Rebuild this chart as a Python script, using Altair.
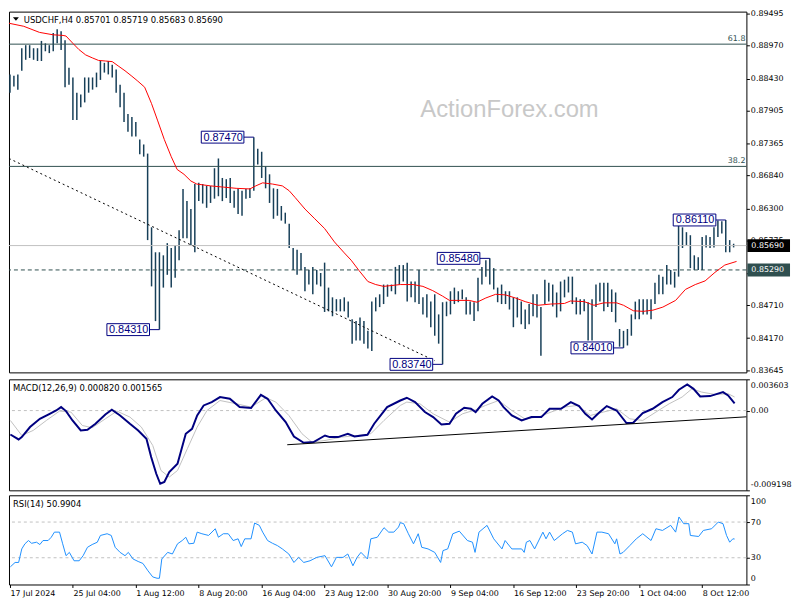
import json
import altair as alt
import pandas as pd

FONT = "DejaVu Sans"
LABEL_FONT = "Liberation Sans"
BAR_COLOR = "#173f58"
NAVY = "#000080"
FIB_COLOR = "#2f4f4f"

W = 744
H_MAIN = 364
H_MACD = 112
H_RSI = 90

# ---------------- data ----------------
# 8-hour price bars, values in 1e-4 (0.8850 -> 8850)
highs = [
    8850, 8848, 8850, 8893, 8898, 8898, 8893, 8893, 8905, 8901,
    8898, 8918, 8924, 8921, 8906, 8861, 8845, 8820, 8817, 8845,
    8845, 8845, 8853, 8872, 8869, 8872, 8866, 8858, 8833, 8820,
    8785, 8780, 8772, 8743, 8735, 8720, 8599, 8558, 8558, 8553,
    8573, 8565, 8570, 8594, 8662, 8642, 8629, 8670, 8672, 8670,
    8667, 8667, 8696, 8712, 8680, 8678, 8680, 8659, 8662, 8659,
    8662, 8663, 8747, 8728, 8723, 8699, 8686, 8663, 8662, 8634,
    8623, 8605, 8565, 8562, 8557, 8534, 8529, 8534, 8529, 8524,
    8541, 8500, 8484, 8481, 8481, 8484, 8477, 8448, 8445, 8451,
    8445, 8429, 8477, 8484, 8489, 8505, 8505, 8505, 8534, 8537,
    8537, 8541, 8510, 8510, 8529, 8484, 8489, 8477, 8489, 8456,
    8476, 8477, 8494, 8500, 8494, 8497, 8484, 8477, 8476, 8516,
    8534, 8545, 8548, 8532, 8500, 8505, 8494, 8494, 8484, 8484,
    8477, 8464, 8473, 8489, 8489, 8468, 8513, 8508, 8505, 8492,
    8510, 8513, 8518, 8518, 8484, 8481, 8481, 8476, 8481, 8505,
    8508, 8508, 8508, 8497, 8492, 8432, 8429, 8432, 8456, 8477,
    8481, 8481, 8481, 8481, 8508, 8521, 8518, 8537, 8529, 8526,
    8605, 8599, 8591, 8586, 8553, 8550, 8583, 8586, 8583, 8599,
    8610, 8609, 8611, 8578, 8572,
]
lows = [
    8820, 8830, 8825, 8856, 8874, 8877, 8874, 8872, 8872, 8888,
    8885, 8888, 8901, 8890, 8829, 8833, 8775, 8775, 8796, 8804,
    8820, 8825, 8829, 8841, 8853, 8850, 8845, 8820, 8796, 8772,
    8756, 8748, 8748, 8719, 8715, 8578, 8502, 8445, 8431, 8500,
    8521, 8500, 8516, 8545, 8581, 8581, 8570, 8558, 8642, 8638,
    8631, 8639, 8646, 8650, 8642, 8647, 8639, 8631, 8621, 8618,
    8646, 8647, 8659, 8702, 8680, 8663, 8639, 8613, 8618, 8610,
    8605, 8565, 8529, 8521, 8529, 8494, 8505, 8489, 8505, 8502,
    8460, 8461, 8453, 8461, 8461, 8461, 8451, 8408, 8413, 8413,
    8408, 8400, 8396, 8461, 8468, 8473, 8485, 8494, 8489, 8505,
    8510, 8477, 8484, 8476, 8473, 8456, 8451, 8435, 8421, 8408,
    8374, 8453, 8456, 8473, 8476, 8481, 8456, 8456, 8445, 8461,
    8505, 8518, 8505, 8497, 8476, 8473, 8473, 8464, 8435, 8451,
    8440, 8432, 8440, 8453, 8451, 8388, 8473, 8477, 8469, 8451,
    8461, 8484, 8492, 8473, 8456, 8456, 8461, 8413, 8413, 8468,
    8477, 8461, 8468, 8460, 8443, 8403, 8401, 8405, 8421, 8448,
    8448, 8456, 8456, 8448, 8473, 8489, 8489, 8505, 8505, 8500,
    8518, 8565, 8570, 8532, 8529, 8529, 8529, 8566, 8565, 8566,
    8583, 8589, 8558, 8558, 8566,
]

# moving average (bar index, value in 1e-4)
ma = [(-0.25, 8934), (3.5, 8929), (7.5, 8919), (11, 8915), (13.5, 8914), (14.25, 8913),
      (16, 8901), (17.5, 8891), (19.25, 8882), (21, 8877), (22.5, 8873), (24.25, 8872),
      (26, 8871), (27.5, 8864), (29.25, 8856), (31, 8847), (32.5, 8839), (34.25, 8829),
      (36, 8802), (37.5, 8775), (39.25, 8743), (41, 8715), (42.5, 8694), (44.25, 8686),
      (46, 8675), (47.5, 8670), (51, 8667), (54.25, 8665), (57.5, 8663), (61, 8662),
      (62.5, 8667), (64.25, 8672), (66.75, 8670), (69.25, 8667), (71, 8659), (72.5, 8648),
      (75, 8629), (77.5, 8613), (80, 8597), (82.5, 8575), (85, 8557), (86.75, 8545),
      (88.75, 8528), (91, 8510), (93, 8505), (95, 8502), (99.25, 8505), (102.5, 8505),
      (105, 8502), (107.5, 8495), (110, 8486), (111.75, 8479), (116.75, 8479), (118.75, 8476),
      (121, 8483), (123.5, 8489), (126, 8488), (128.5, 8483), (131, 8477), (134.25, 8471),
      (137.5, 8473), (141, 8474), (142.5, 8478), (146, 8477), (148.5, 8471), (151, 8475),
      (154.25, 8475), (156, 8471), (158.5, 8462), (161, 8461), (163.5, 8463), (166, 8468),
      (169.25, 8479), (171.75, 8497), (174.25, 8505), (176.75, 8511), (179.25, 8525),
      (181.75, 8537), (184.75, 8543)]

# MACD main line and signal (bar index, value in 1e-4)
macd = [(0.1, -27.6), (2.2, -33.3), (3, -30.6), (5.1, -19.0), (7.6, -9.5), (10.1, -3.7),
        (11.75, 0.1), (13, 4.0), (14.25, -0.6), (15.9, -11.4), (18, -22.9), (19.7, -22.1),
        (21.75, -15.2), (24.25, -4.5), (25.9, 0.9), (28, -5.6), (30.5, -15.2), (32.6, -22.9),
        (34.7, -32.5), (35.9, -53.6), (37.2, -72.9), (38.2, -84.4), (39.25, -82.4), (40.5, -70.9),
        (42.6, -61.3), (44.7, -26.7), (46.3, -21.0), (47.6, -5.6), (49.25, 5.9), (51.3, 9.8),
        (53.4, 15.6), (55.9, 13.6), (58.4, 4.0), (61.3, 2.9), (63.8, 18.2), (65.5, 13.6),
        (67.6, 0.1), (70.1, -13.3), (72.2, -29.9), (74.7, -37.1), (77.2, -36.3), (80.1, -28.7),
        (81.3, -30.6), (83.4, -30.6), (85.9, -26.7), (87.6, -29.9), (90.9, -27.9), (92.6, -15.2),
        (95.9, 4.0), (99.25, 11.6), (100.9, 14.8), (103, 9.8), (105.5, -1.7), (107.6, -7.5),
        (109.7, -16.0), (111.75, -15.2), (113.4, -3.7), (115.5, 3.2), (117.2, 2.1), (118.4, -1.7),
        (120.1, 7.8), (122.6, 16.3), (124.25, 11.6), (125.5, 4.0), (127.6, -5.6), (130.1, -11.4),
        (132.6, -7.5), (135.1, -7.5), (137.2, 2.1), (140.1, 2.1), (142.6, 9.8), (144.7, 5.2),
        (146.3, -3.7), (148, -10.3), (149.7, -2.9), (151.75, 5.2), (154.25, 0.1), (156.75, -14.4),
        (158.4, -14.4), (160.9, -2.9), (163.4, 2.1), (165.9, 9.8), (168.4, 15.6), (170.1, 24.0),
        (172.2, 30.1), (173.8, 25.1), (175.5, 16.3), (178, 16.7), (181.3, 21.3), (182.6, 17.4),
        (184.25, 8.2)]
signal = [(0.1, -11.4), (3, -28.7), (5.9, -22.9), (9.25, -11.4), (12.6, -0.6), (15.5, -1.7),
          (18.4, -17.2), (20.9, -19.8), (24.25, -9.5), (27.2, -0.6), (30.5, -7.5), (33.4, -19.0),
          (36.3, -40.2), (38.4, -69.1), (40.5, -76.7), (42.6, -69.1), (45.1, -44.0), (47.6, -19.0),
          (50.1, 0.1), (53.4, 11.6), (57.6, 7.8), (61.3, 4.0), (65.1, 14.8), (67.6, 9.8),
          (70.9, -5.6), (74.25, -26.7), (76.75, -36.3), (80.1, -34.5), (84.25, -30.6), (88.4, -28.7),
          (91.75, -26.7), (95.1, -11.4), (99.25, 5.9), (100.9, 9.8), (104.25, 7.8), (107.6, -3.7),
          (111.75, -13.3), (115.1, -3.7), (118.4, 0.9), (120.9, 5.9), (124.25, 11.6), (127.6, 0.1),
          (130.9, -9.5), (134.25, -7.5), (137.6, -1.7), (140.9, 4.0), (144.25, 5.9), (147.6, -5.6),
          (150.9, -1.7), (154.25, 2.1), (157.6, -9.5), (160.9, -11.4), (164.25, -1.7), (167.6, 7.8),
          (170.9, 15.6), (173.4, 25.1), (175.9, 21.3), (179.25, 18.6), (182.6, 19.4), (184.25, 15.7)]

# RSI(14) (bar index, value)
rsi = [(0.1, 19.8), (1.3, 24.7), (2.2, 24.7), (3, 39.9), (3.8, 45.6), (4.7, 49.3), (5.5, 46.2),
       (6.75, 47.4), (7.6, 44.8), (8.4, 49.3), (9.7, 49.3), (10.5, 53.0), (11.3, 58.7), (12.6, 58.7),
       (13.4, 45.6), (14.25, 32.3), (15.1, 36.0), (16.3, 26.6), (17.6, 26.6), (18.6, 32.3),
       (19.7, 41.7), (20.9, 44.8), (22.2, 47.4), (23, 55.0), (24.7, 56.9), (25.75, 55.0),
       (26.75, 41.7), (28, 36.0), (29.25, 32.3), (30.1, 36.0), (31.3, 28.6), (32.6, 25.8),
       (33.8, 23.6), (35.1, 15.3), (36.3, 8.5), (37.4, 7.0), (38, 7.0), (38.6, 28.6), (40.1, 36.0),
       (41.3, 34.2), (42.6, 45.6), (43.8, 49.3), (44.7, 53.0), (45.5, 45.6), (46.75, 46.2),
       (47.6, 58.7), (48.8, 56.9), (50.5, 55.0), (52.2, 62.5), (53, 53.0), (54.25, 56.9),
       (55.5, 56.9), (56.75, 49.3), (58, 51.2), (58.8, 42.5), (59.7, 51.2), (61.3, 51.2),
       (62.2, 68.9), (63.4, 66.3), (64.25, 58.7), (65.5, 49.3), (66.75, 46.2), (68, 43.6),
       (69.25, 39.9), (70.9, 34.2), (72.2, 24.7), (73.4, 30.4), (74.7, 24.7), (76.3, 26.6),
       (78, 30.4), (80.1, 32.3), (81.75, 19.8), (83, 30.4), (84.7, 30.4), (85.9, 34.2),
       (87.2, 21.0), (88.25, 30.4), (89.25, 36.0), (90.9, 28.6), (91.75, 51.2), (93.4, 53.0),
       (95.1, 63.7), (96.3, 58.7), (97.6, 58.7), (98.8, 64.4), (99.25, 69.3), (100.1, 68.2),
       (101.3, 56.9), (102.6, 45.6), (103.8, 56.9), (104.7, 41.7), (106.3, 39.9), (108, 36.0),
       (109.5, 24.7), (110.1, 38.0), (111.3, 39.9), (112.6, 56.9), (114.25, 59.8), (116.3, 49.3),
       (117.6, 47.4), (118.25, 36.0), (119.25, 58.7), (121.3, 66.3), (123, 51.2), (125.1, 39.9),
       (125.9, 49.3), (127.6, 39.9), (130.1, 39.9), (130.75, 36.0), (131.3, 47.4), (132.2, 49.3),
       (133.4, 39.9), (135.5, 58.7), (136.3, 51.2), (137.2, 58.7), (138.4, 49.3), (140.5, 56.9),
       (141.75, 60.6), (143, 58.7), (143.8, 45.6), (145.5, 47.4), (146.75, 43.6), (148, 34.2),
       (149.25, 58.7), (150.5, 58.7), (152.2, 56.9), (153.8, 45.6), (154.25, 51.2), (155.1, 34.2),
       (155.9, 36.0), (157.6, 43.6), (159.25, 51.2), (160.9, 56.9), (163, 49.3), (164.25, 62.5),
       (165.9, 60.6), (168, 66.3), (169.25, 58.7), (170.1, 75.7), (171.3, 68.2), (172.6, 68.2),
       (173, 55.0), (175.1, 53.8), (176.3, 60.6), (178.4, 62.5), (180.1, 70.0), (181.3, 68.2),
       (182.2, 55.0), (183, 47.4), (183.8, 51.2), (184.25, 51.0)]

price_ticks = [0.89495, 0.88970, 0.88430, 0.87905, 0.87365, 0.86840,
               0.86300, 0.85775, 0.85235, 0.84710, 0.84170, 0.83645]
macd_ticks = [0.003603, 0.0, -0.009198]
macd_tick_labels = ["0.003603", "0.00", "-0.009198"]
rsi_ticks = [100, 70, 30, 0]
rsi_levels = [70, 30]
date_pos = [0, 16, 32, 48, 64, 80, 96, 112, 128, 144, 160, 176]
date_labels = ["17 Jul 2024", "25 Jul 04:00", "1 Aug 12:00", "8 Aug 20:00",
               "16 Aug 04:00", "23 Aug 12:00", "30 Aug 20:00", "9 Sep 04:00",
               "16 Sep 12:00", "23 Sep 20:00", "1 Oct 04:00", "8 Oct 12:00"]

marker_idx = [62, 38, 110, 122, 156, 182]
marker_price = [0.87470, 0.84310, 0.83740, 0.85480, 0.84010, 0.86110]
marker_label = ["0.87470", "0.84310", "0.83740", "0.85480", "0.84010", "0.86110"]

fib_levels = ["61.8", "38.2"]
fib_prices = [0.88997, 0.86990]
trend_idx = [-0.25, 108]
trend_price = [0.8712, 0.8380]
macd_trend_idx = [70.5, 187.25]
macd_trend_val = [-39.4, -7.2]
last_price = 0.85690
support_price = 0.85290
tag_prices = [0.85690, 0.85290]
tag_labels = ["0.85690", "0.85290"]
tag_colors = ["#000000", "#2f4f4f"]

title_main = "USDCHF,H4  0.85701 0.85719 0.85683 0.85690"
title_macd = "MACD(12,26,9) 0.000820 0.001565"
title_rsi = "RSI(14) 50.9904"
watermark = "ActionForex.com"

# ---------------- tables ----------------
df_bars = pd.DataFrame({"i": list(range(len(highs))),
                        "high": [h / 1e4 for h in highs],
                        "low": [l / 1e4 for l in lows]})
df_ma = pd.DataFrame({"i": [p[0] for p in ma], "price": [p[1] / 1e4 for p in ma]})
df_macd = pd.DataFrame({"i": [p[0] for p in macd], "v": [p[1] * 1e-4 for p in macd]})
df_sig = pd.DataFrame({"i": [p[0] for p in signal], "v": [p[1] * 1e-4 for p in signal]})
df_rsi = pd.DataFrame({"i": [p[0] for p in rsi], "v": [p[1] for p in rsi]})
df_marks = pd.DataFrame({"i": marker_idx, "price": marker_price, "label": marker_label})
df_fib = pd.DataFrame({"level": fib_levels, "price": fib_prices})
df_trend = pd.DataFrame({"i": trend_idx, "price": trend_price})
df_mtrend = pd.DataFrame({"i": macd_trend_idx, "v": [v * 1e-4 for v in macd_trend_val]})
df_tags = pd.DataFrame({"price": tag_prices, "label": tag_labels, "bg": tag_colors})
one = pd.DataFrame({"k": [0]})

xscale = alt.Scale(domain=[-0.25, 187.25], nice=False, zero=False)
pscale = alt.Scale(domain=[0.83608, 0.89531], nice=False, zero=False)
mscale = alt.Scale(domain=[-0.009198, 0.003603], nice=False, zero=False)
rscale = alt.Scale(domain=[0, 100], nice=False, zero=False)

axis_common = dict(title=None, grid=False, domain=False, tickSize=3, tickColor="black",
                   labelPadding=1, labelFont=FONT, labelFontSize=8, labelColor="black")

price_axis = alt.Axis(orient="right", values=price_ticks, format=".5f", **axis_common)
macd_label_expr = " : ".join(
    f"datum.value == {v} ? '{s}'" for v, s in zip(macd_ticks[:-1], macd_tick_labels[:-1])
) + f" : '{macd_tick_labels[-1]}'"
macd_axis = alt.Axis(orient="right", values=macd_ticks, labelExpr=macd_label_expr,
                     labelFlush=True, labelFlushOffset=-2, **axis_common)
rsi_axis = alt.Axis(orient="right", values=rsi_ticks, format="d",
                    labelFlush=True, labelFlushOffset=-2, **axis_common)


def X():
    return alt.X("i:Q", scale=xscale, axis=None)


def P(field="price"):
    return alt.Y(f"{field}:Q", scale=pscale, axis=price_axis)


def M():
    return alt.Y("v:Q", scale=mscale, axis=macd_axis)


def R():
    return alt.Y("v:Q", scale=rscale, axis=rsi_axis)


# ---------------- main panel ----------------
wm = alt.Chart(pd.DataFrame({"t": [watermark]})).mark_text(
    font=LABEL_FONT, fontSize=24, color="#c8c8c8", align="center", baseline="alphabetic"
).encode(x=alt.value(505), y=alt.value(106), text="t:N")

fib_rules = alt.Chart(df_fib).mark_rule(color=FIB_COLOR, strokeWidth=1).encode(y=P())
fib_text = alt.Chart(df_fib).mark_text(
    align="right", baseline="bottom", dy=-1, font=FONT, fontSize=8, color=FIB_COLOR
).encode(x=alt.value(W - 1), y=P(), text="level:N")

last_rule = alt.Chart(pd.DataFrame({"price": [last_price]})).mark_rule(
    color="#c0c0c0", strokeWidth=1).encode(y=P())
sup_rule = alt.Chart(pd.DataFrame({"price": [support_price]})).mark_rule(
    color=FIB_COLOR, strokeWidth=1, strokeDash=[4, 3]).encode(y=P())

trend = alt.Chart(df_trend).mark_line(
    color="black", strokeWidth=1, strokeDash=[2, 3]).encode(x=X(), y=P())

bars = alt.Chart(df_bars).mark_rule(color=BAR_COLOR, strokeWidth=1.5).encode(
    x=X(), y=P("high"), y2="low")

ma_line = alt.Chart(df_ma).mark_line(color="#ff0000", strokeWidth=1).encode(x=X(), y=P())

mk_conn = alt.Chart(df_marks).mark_rule(color=NAVY, strokeWidth=1, xOffset=-10).encode(
    x=X(), x2="i", y=P())
mk_box = alt.Chart(df_marks).mark_rect(
    fill="white", stroke=NAVY, strokeWidth=1, xOffset=-53, x2Offset=-10, yOffset=-6, y2Offset=6
).encode(x=X(), x2="i", y=P(), y2="price")
mk_text = alt.Chart(df_marks).mark_text(
    dx=-31, dy=0.5, font=LABEL_FONT, fontSize=11, color=NAVY, align="center", baseline="middle"
).encode(x=X(), y=P(), text="label:N")

tag_box = alt.Chart(df_tags).mark_rect(yOffset=-6.5, y2Offset=6.5).encode(
    x=alt.value(W + 1), x2=alt.value(W + 44), y=P(), y2="price",
    color=alt.Color("bg:N", scale=None))
tag_text = alt.Chart(df_tags).mark_text(
    align="left", baseline="middle", font=FONT, fontSize=8, color="white"
).encode(x=alt.value(W + 5), y=P(), text="label:N")

ttl = alt.Chart(pd.DataFrame({"t": [title_main]})).mark_text(
    align="left", baseline="alphabetic", font=FONT, fontSize=8.5, color="black"
).encode(x=alt.value(15), y=alt.value(11), text="t:N")
tri = alt.Chart(one).mark_point(
    shape="M-1,-0.6L1,-0.6L0,0.6Z", filled=True, color="black", size=36, opacity=1
).encode(x=alt.value(7), y=alt.value(7.5))

main = alt.layer(
    bars, wm, fib_rules, fib_text, last_rule, sup_rule, trend, ma_line,
    mk_conn, mk_box, mk_text, tag_box, tag_text, ttl, tri
).properties(width=W, height=H_MAIN)

# ---------------- MACD panel ----------------
zero_rule = alt.Chart(pd.DataFrame({"v": [0.0]})).mark_rule(
    color="#c0c0c0", strokeDash=[3, 3], strokeWidth=1).encode(y=M())
sig_line = alt.Chart(df_sig).mark_line(color="#c0c0c0", strokeWidth=1).encode(x=X(), y=M())
macd_line = alt.Chart(df_macd).mark_line(color=NAVY, strokeWidth=2).encode(x=X(), y=M())
mtrend = alt.Chart(df_mtrend).mark_line(color="black", strokeWidth=1).encode(x=X(), y=M())
mttl = alt.Chart(pd.DataFrame({"t": [title_macd]})).mark_text(
    align="left", baseline="alphabetic", font=FONT, fontSize=8.5, color="black"
).encode(x=alt.value(4), y=alt.value(12), text="t:N")

macd_chart = alt.layer(zero_rule, sig_line, macd_line, mtrend, mttl).properties(
    width=W, height=H_MACD)

# ---------------- RSI panel ----------------
x_label_expr = f"{json.dumps(date_labels)}[round(datum.value / 16)]"
date_axis = alt.Axis(values=date_pos, labelExpr=x_label_expr, labelAlign="left",
                     labelOverlap=False, labelFlush=False, labelPadding=2,
                     title=None, grid=False, domain=False, tickSize=3, tickColor="black",
                     labelFont=FONT, labelFontSize=8, labelColor="black")

rsi_rules = alt.Chart(pd.DataFrame({"v": rsi_levels})).mark_rule(
    color="#c0c0c0", strokeDash=[3, 3], strokeWidth=1).encode(y=R())
rsi_line = alt.Chart(df_rsi).mark_line(color="#1e90ff", strokeWidth=1).encode(
    x=alt.X("i:Q", scale=xscale, axis=date_axis), y=R())
rttl = alt.Chart(pd.DataFrame({"t": [title_rsi]})).mark_text(
    align="left", baseline="alphabetic", font=FONT, fontSize=8.5, color="black"
).encode(x=alt.value(4), y=alt.value(12), text="t:N")

rsi_chart = alt.layer(rsi_rules, rsi_line, rttl).properties(width=W, height=H_RSI)

chart = alt.vconcat(main, macd_chart, rsi_chart, spacing=3).properties(
    padding={"left": -3, "top": -2, "right": 0, "bottom": 0}
).configure_view(stroke="black", strokeWidth=1)

chart.save("out.html", embed_options={"renderer": "svg", "actions": False})
